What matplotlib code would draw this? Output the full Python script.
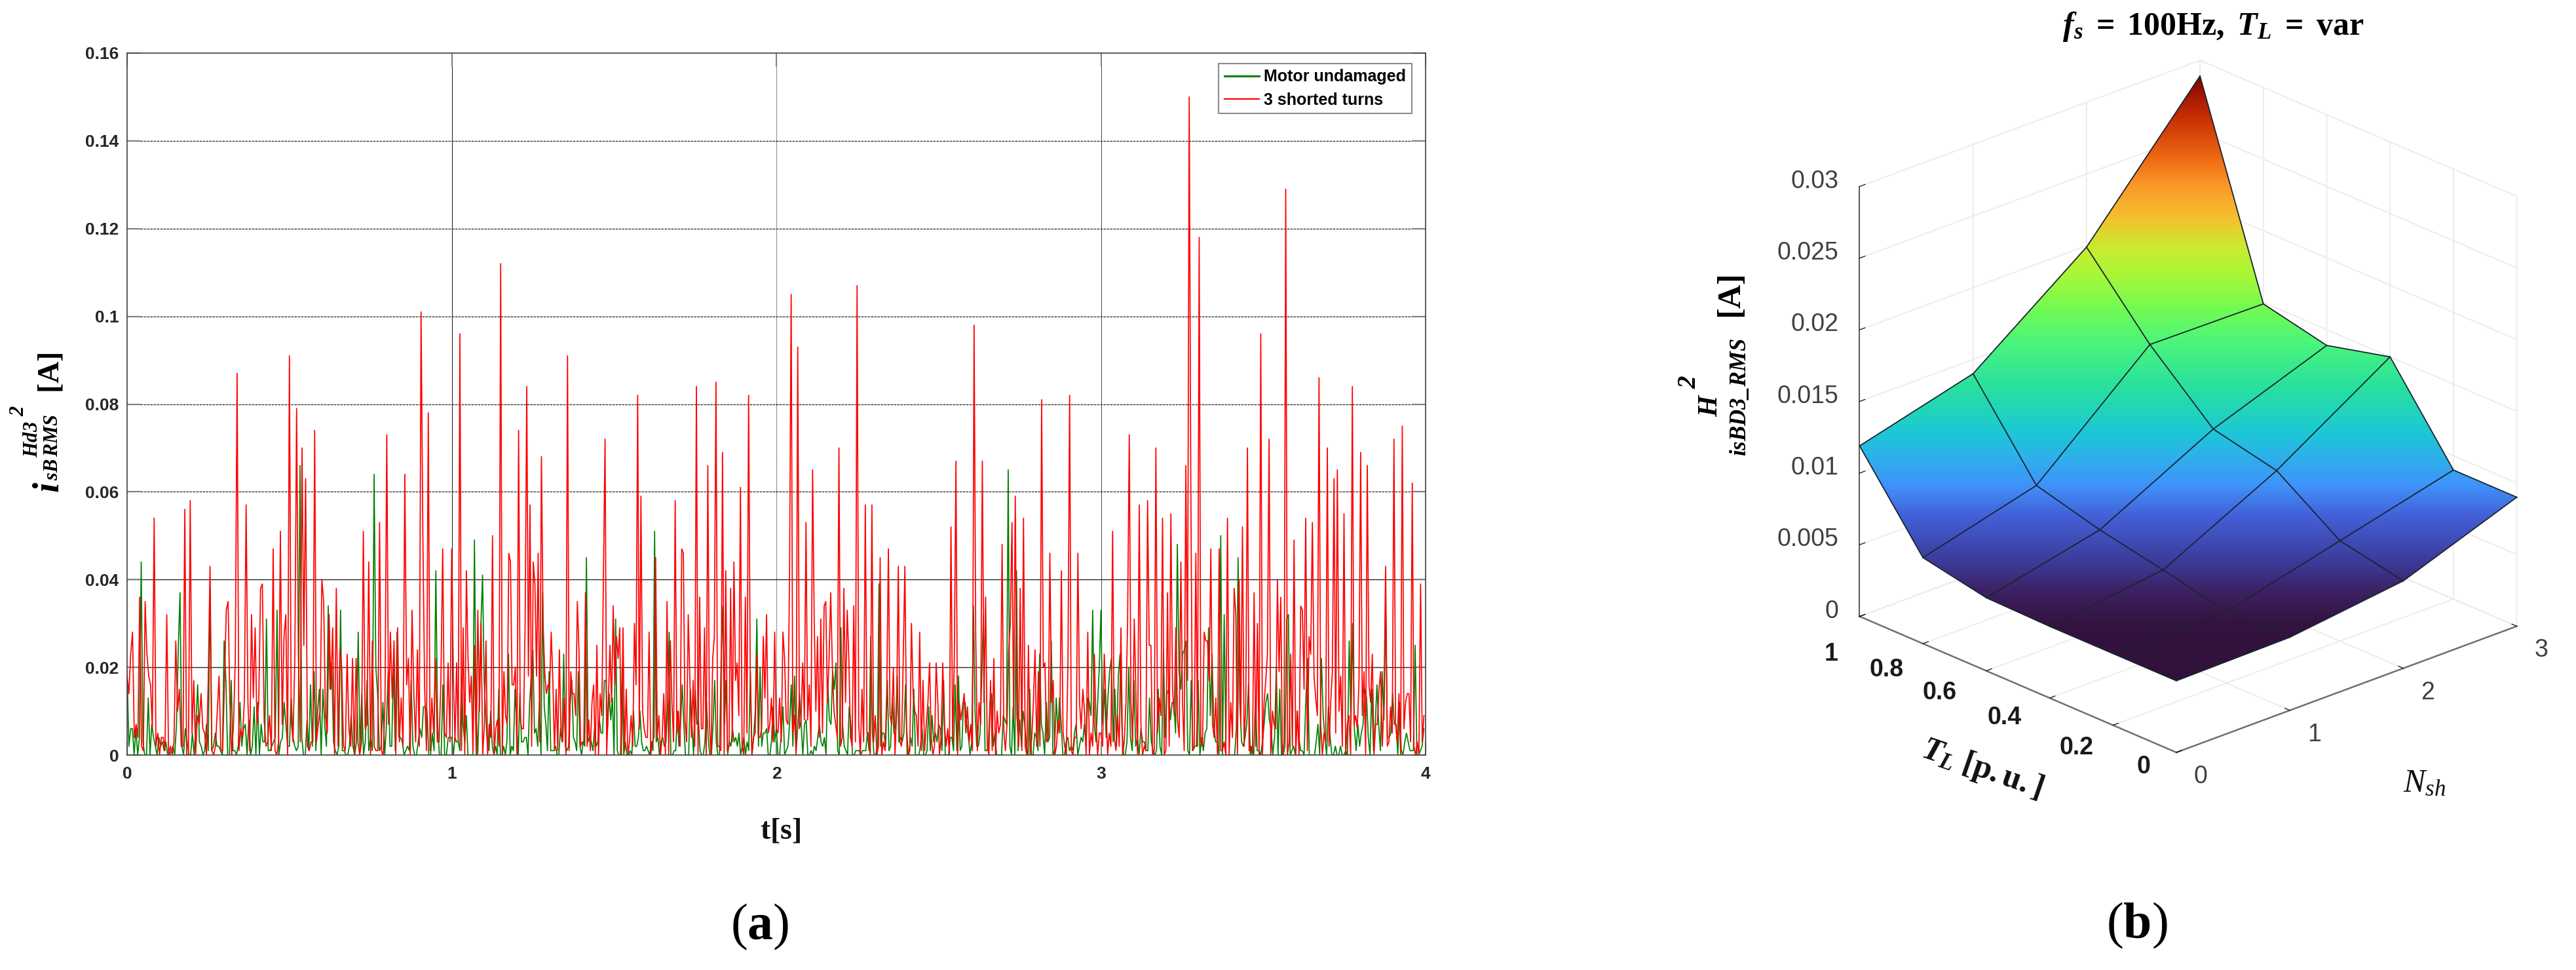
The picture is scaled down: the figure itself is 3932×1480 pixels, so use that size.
import matplotlib
matplotlib.use('Agg')
import matplotlib.pyplot as plt
import numpy as np
from matplotlib.colors import LinearSegmentedColormap
from matplotlib.patches import Polygon
from mpl_toolkits.mplot3d import proj3d

plt.rcParams['font.family'] = ['Liberation Sans', 'DejaVu Sans']
plt.rcParams['mathtext.fontset'] = 'custom'
plt.rcParams['mathtext.rm'] = 'Liberation Serif'
plt.rcParams['mathtext.it'] = 'Liberation Serif:italic'
plt.rcParams['mathtext.bf'] = 'Liberation Serif:bold'
plt.rcParams['mathtext.bfit'] = 'Liberation Serif:italic:bold'

# ---- panel (a): values in mA, one block per second, 5 ms apart
red_s0 = [18,14,23,28,4,7,4,36,2,1,35,23,18,16,6,54,2,5,0,4,4,1,32,0,2,0,3,26,10,15,2,2,56,0,0,58,5,17,0,9,7,14,6,5,0,17,43,1,0,2,10,18,1,1,17,33,35,12,0,7,22,87,1,6,4,12,57,12,1,32,13,29,7,12,38,39,8,2,3,9,1,47,1,0,3,51,7,27,32,0,91,8,3,22,79,22,3,70,25,63,2,1,3,3,74,3,7,10,40,35,9,5,32,15,29,0,38,2,24,20,2,1,23,6,2,22,0,22,3,0,3,51,6,7,44,0,26,2,1,1,53,1,0,12,73,7,28,13,26,0,29,3,13,2,64,16,22,0,33,14,3,24,2,101,50,15,1,78,1,13,5,22,3,3,17,47,5,4,21,3]
red_s1 = [47,18,3,21,3,96,1,29,0,42,22,12,18,1,25,0,33,10,30,0,7,26,0,7,4,50,0,6,8,2,112,0,19,9,7,46,44,16,16,20,0,74,8,6,6,30,84,18,57,2,44,39,18,46,3,68,30,19,14,16,15,28,17,1,15,1,24,5,3,13,0,91,1,19,14,14,9,35,24,2,3,3,37,2,8,1,12,16,0,25,0,14,9,40,72,0,12,25,12,34,16,27,22,29,0,29,1,15,0,3,9,2,30,16,82,6,59,10,6,4,4,28,0,3,4,45,4,9,0,4,14,0,35,0,26,12,3,58,5,10,2,47,46,8,3,32,17,4,17,2,84,0,36,6,6,29,0,66,7,0,22,27,85,2,2,1,69,0,42,1,2,38,3,44,17,21,9,61,2,0,36,5,82,19,0,4,5,23,4,4,6,27,13,32,5,7,13,3,28]
red_s2 = [6,5,13,3,28,22,8,7,40,105,5,9,0,93,6,8,21,8,53,8,16,2,65,30,10,27,4,31,5,34,35,12,22,37,20,10,7,4,70,2,4,38,12,33,22,4,2,34,3,107,7,0,15,3,57,5,5,0,57,3,9,0,2,45,0,3,1,14,47,9,7,20,0,10,43,3,2,22,43,7,0,1,30,14,10,9,2,28,1,17,1,7,12,21,4,0,2,21,12,0,4,21,7,2,6,0,52,3,22,67,0,12,8,11,14,5,11,3,7,1,98,27,1,12,7,67,12,36,2,0,17,1,22,0,10,5,7,48,6,1,7,24,30,53,8,59,9,2,38,1,54,2,0,25,0,4,12,24,2,19,2,81,20,21,3,4,46,12,17,0,2,8,5,42,5,2,0,22,82,1,0,4,4,46,12,6,15,10,0,28,0,5,2,23,7,0,5]
red_s3 = [5,2,23,12,0,5,2,51,4,1,9,2,29,0,3,12,30,73,12,3,31,14,0,57,7,0,2,1,58,25,25,0,1,70,5,13,9,54,0,1,37,2,55,15,9,29,8,4,44,12,1,66,17,150,60,1,2,46,2,118,3,2,28,26,26,17,47,7,4,13,0,47,1,1,3,0,54,0,12,4,38,32,0,40,7,52,2,12,70,1,2,0,37,2,30,0,96,0,12,17,23,72,0,10,7,6,40,19,36,0,3,129,0,3,23,2,49,0,10,0,34,33,15,54,1,27,23,53,18,13,9,86,7,0,5,3,70,2,12,19,63,5,65,10,18,2,55,0,7,9,0,84,7,9,6,17,69,9,19,0,66,16,12,23,0,7,7,15,19,2,12,43,2,3,11,5,72,7,3,14,0,75,6,12,14,14,3,62,2,0,3,0,39,3,9]

green_s0 = [19,2,6,6,0,6,0,4,44,3,0,0,13,0,7,4,2,0,4,2,3,1,3,0,0,1,2,0,7,24,37,2,0,6,3,0,0,5,0,7,16,3,2,0,1,7,1,38,1,2,5,2,2,1,0,26,17,0,0,17,1,1,0,2,12,2,6,7,0,8,0,2,11,0,12,0,7,3,3,31,1,1,2,3,4,33,0,3,4,12,7,2,2,13,4,2,1,2,66,4,0,0,8,1,16,2,19,1,10,15,0,15,7,2,34,15,21,3,1,0,2,33,1,1,0,0,2,9,2,0,3,28,1,14,0,3,17,1,4,1,64,20,14,1,2,12,0,7,19,2,2,21,1,28,4,4,3,0,1,2,1,17,2,0,0,3,6,4,11,11,10,0,0,5,1,42,7,0,0,16,0,0,4,4]
green_s1 = [4,0,4,3,3,1,18,7,3,9,0,0,0,0,49,10,0,12,30,41,17,9,2,1,10,2,0,2,0,15,0,0,2,0,3,23,0,2,1,15,7,0,14,3,3,4,4,0,12,18,24,5,6,2,12,0,37,11,7,1,19,1,1,1,2,0,0,6,3,23,2,1,2,12,17,4,3,1,19,2,0,3,2,45,3,4,3,1,6,2,3,8,5,5,17,17,6,14,8,13,0,31,1,0,0,20,0,3,0,0,1,0,10,2,2,4,10,3,1,1,2,1,0,3,1,51,3,4,0,3,4,2,3,12,28,0,0,1,1,10,2,7,16,7,0,0,0,15,7,0,15,7,8,1,0,0,3,12,4,0,0,7,17,3,0,0,22,34,7,17,0,3,2,6,3,4,2,5,0,2,4,0,3,1,19,0,4,10,31,2,20,2,5,5,6,0,0,3,11,3]
green_s2 = [6,0,0,5,11,0,1,2,7,16,2,18,1,7,14,7,0,7,8,0,0,1,0,2,1,4,7,3,2,4,0,17,8,7,19,15,21,1,0,29,7,2,1,0,11,7,0,0,1,1,1,0,1,1,1,5,1,27,5,0,0,2,39,2,5,5,2,17,1,2,13,5,7,18,3,4,3,5,16,0,0,4,2,15,0,0,0,2,6,0,0,1,11,1,9,3,5,3,7,6,1,17,0,0,0,4,4,1,16,1,18,1,2,12,12,7,4,0,3,34,10,2,2,5,17,32,1,1,2,12,14,2,5,0,0,0,0,9,8,7,65,2,0,11,0,42,1,8,2,10,7,2,0,15,0,0,5,4,1,23,7,5,0,12,3,4,26,0,1,13,5,13,7,0,0,3,4,1,2,1,5,7,0,2,4,3,7,2,13,12,9,33,7,3,12,20]
green_s3 = [33,7,15,4,13,19,22,3,15,2,18,23,7,0,0,3,20,4,1,17,2,4,0,6,3,3,1,1,13,3,1,0,1,15,2,0,24,4,14,15,8,12,12,5,48,19,15,23,24,26,1,0,17,1,2,2,17,0,4,1,5,6,29,9,23,7,3,3,0,50,0,32,0,0,0,0,0,0,6,45,12,3,2,4,7,16,0,2,0,13,1,1,0,3,7,12,14,8,6,0,4,20,0,15,0,0,2,31,32,0,1,2,0,10,4,1,1,0,12,22,0,0,0,0,3,7,0,22,9,4,0,11,4,0,0,2,0,0,2,0,0,1,0,26,7,30,6,1,7,2,5,7,15,13,4,0,15,1,7,16,7,1,19,8,34,4,4,5,14,7,7,0,12,1,0,3,5,3,1,1,1,25,0,0,1,2,6]

seconds = [0, 1, 2, 3]
t_ticks = [0, 1, 2, 3, 4]
i_ticks = [0, 0.02, 0.04, 0.06, 0.08, 0.1, 0.12, 0.14, 0.16]
i_tick_labels = ['0', '0.02', '0.04', '0.06', '0.08', '0.1', '0.12', '0.14', '0.16']

# ---- panel (b): surface values, rows follow TL, columns follow Nsh
nsh = [0, 1, 2, 3]
tl = [0, 0.2, 0.4, 0.6, 0.8, 1]
h2_rows = [
    [0.0050, 0.0051, 0.0061, 0.0090],
    [0.0050, 0.0050, 0.0070, 0.0090],
    [0.0050, 0.0060, 0.0100, 0.0150],
    [0.0051, 0.0069, 0.0110, 0.0139],
    [0.0060, 0.0081, 0.0150, 0.0149],
    [0.0119, 0.0140, 0.0199, 0.0289],
]
h_ticks = [0, 0.005, 0.01, 0.015, 0.02, 0.025, 0.03]
h_tick_labels = ['0', '0.005', '0.01', '0.015', '0.02', '0.025', '0.03']
tl_tick_labels = ['0', '0.2', '0.4', '0.6', '0.8', '1']
nsh_tick_labels = ['0', '1', '2', '3']


def second_times(block, start):
    return start + np.arange(len(block)) / len(block)


W, H = 3932, 1480
fig = plt.figure(figsize=(W / 100, H / 100), dpi=100, facecolor='white')


def rect(x0, y0, x1, y1):
    return [x0 / W, 1 - y1 / H, (x1 - x0) / W, (y1 - y0) / H]


#---- left panel
ax = fig.add_axes(rect(194, 81, 2176, 1152))
red_blocks = [red_s0, red_s1, red_s2, red_s3]
green_blocks = [green_s0, green_s1, green_s2, green_s3]
t_red = np.concatenate([second_times(b, s) for b, s in zip(red_blocks, seconds)])
t_green = np.concatenate([second_times(b, s) for b, s in zip(green_blocks, seconds)])
y_red = np.concatenate(red_blocks) / 1000
y_green = np.concatenate(green_blocks) / 1000
ax.plot(t_green, y_green, color='#008000', lw=1.25, label='Motor undamaged')
ax.plot(t_red, y_red, color='#ff0000', lw=1.25, label='3 shorted turns')
ax.set_xlim(0, 4)
ax.set_ylim(0, 0.16)
ax.set_xticks(t_ticks)
ax.set_yticks(i_ticks)
ax.set_yticklabels(i_tick_labels)
ax.tick_params(axis='both', which='major', direction='in', length=15, width=1.4, color='#808080',
               top=True, right=True, labelsize=19, labelcolor='#262626')
ax.tick_params(axis='x', pad=12)
ax.tick_params(axis='y', pad=9)
for lab in ax.get_xticklabels() + ax.get_yticklabels():
    lab.set_fontweight('bold')
ax.set_axisbelow(True)
for val in i_ticks[1:3]:
    ax.axhline(val, color='#262626', lw=1.0, zorder=0.5)
for val in i_ticks[3:-1]:
    ax.axhline(val, color='#262626', lw=0.9, ls=(0, (3, 1)), zorder=0.5)
ax.axvline(1, color='#262626', lw=0.8, zorder=0.5)
ax.axvline(2, color='#262626', lw=0.8, ls=(0, (1, 1)), zorder=0.5)
ax.axvline(3, color='#404040', lw=0.7, zorder=0.5)
for s in ax.spines.values():
    s.set_color('#404040')
    s.set_linewidth(1.2)
leg = ax.legend(loc='upper right', bbox_to_anchor=(0.9893, 0.9855), fontsize=18, frameon=True,
                fancybox=False, framealpha=1, edgecolor='#8c8c8c', borderpad=0.35, labelspacing=0.45,
                handlelength=2.1, handletextpad=0.3, borderaxespad=0)
leg.get_frame().set_linewidth(1.5)
for txt in leg.get_texts():
    txt.set_fontweight('bold')
    txt.set_color('black')
for line, w in zip(leg.get_lines(), [2.2, 1.6]):
    line.set_linewidth(w)

#---- right panel, orthographic view like the MATLAB figure
ax3 = fig.add_axes(rect(2700, 0, 3900, 1200), projection='3d')
ax3.set_proj_type('ortho')
ax3.view_init(elev=23.5, azim=-132.9)
ax3.set_box_aspect((710, 711, 716))
ax3.patch.set_alpha(0)
N_grid, T_grid = np.meshgrid(nsh, tl)
Z_grid = np.array(h2_rows)
ax3.plot_surface(N_grid, T_grid, Z_grid, color='#3f93fb', shade=False, edgecolor='none', antialiased=False)
ax3.set_xlim(0, 3)
ax3.set_ylim(0, 1)
ax3.set_zlim(0, 0.03)
ax3.set_xticks(nsh)
ax3.set_yticks(tl)
ax3.set_zticks(h_ticks)
ax3.set_xticklabels([])
ax3.set_yticklabels([])
ax3.set_zticklabels([])
for axis in (ax3.xaxis, ax3.yaxis, ax3.zaxis):
    axis.set_pane_color((1, 1, 1, 1))
    axis.pane.set_edgecolor('#ececec')
    axis._axinfo['grid'].update(color='#ececec', linewidth=1.4)
    axis._axinfo['tick'].update(inward_factor=0.0, outward_factor=0.2)
    axis.line.set_color('#707070')
    axis.line.set_linewidth(1.8)
ax3.zaxis.line.set_color('#404040')
ax3.zaxis.line.set_linewidth(1.2)


def to_pixels(n, t, z):
    xp, yp, _ = proj3d.proj_transform(n, t, z, ax3.get_proj())
    dx, dy = ax3.transData.transform((xp, yp))
    return dx, H - dy


# fit the box onto the reference corners (bottom corner and back top corner)
fig.canvas.draw()
x_a, y_a = to_pixels(0, 0, 0)
x_b, y_b = to_pixels(3, 1, 0.03)
scale = (1148 - 92) / (y_a - y_b)
side = 1200 * scale
fig.canvas.draw()
ax3.set_position(rect(2700, 0, 2700 + side, side))
fig.canvas.draw()
x_a, y_a = to_pixels(0, 0, 0)
x0 = 2700 + (3322 - x_a)
y0 = 1148 - y_a
ax3.set_position(rect(x0, y0, x0 + side, y0 + side))
fig.canvas.draw()

#---- overlay in figure pixels: gradient colouring, mesh lines and labels
ov = fig.add_axes([0, 0, 1, 1], zorder=5)
ov.patch.set_alpha(0)
ov.axis('off')

stop_pos = [0, .093, .144, .195, .272, .323, .377, .41, .485, .561, .613, .67, .715, .767, .818, .865, .92, .962, 1]
stop_col = ['#2f1239', '#33133f', '#3c2060', '#3c3a98', '#4360d8', '#3f93fb', '#2bb5e8', '#1cc8d6', '#28e09f',
            '#4cf57a', '#70fb55', '#a6f838', '#c8ec30', '#f5c02e', '#fc9a28', '#ee6a14', '#cf3a06', '#ac1c02', '#800500']
screen_cmap = LinearSegmentedColormap.from_list('screen', list(zip(stop_pos, stop_col)))

pts = np.array([[to_pixels(n, t, Z_grid[j, i]) for i, n in enumerate(nsh)] for j, t in enumerate(tl)])
outline = np.vstack([pts[::-1, 0], pts[0, 1:], pts[1:, -1], pts[-1, -2::-1]])
y_low, y_high = outline[:, 1].max(), outline[:, 1].min()
im = ov.imshow(np.linspace(1, 0, 512)[:, None], cmap=screen_cmap, aspect='auto', vmin=0, vmax=1,
               extent=(outline[:, 0].min(), outline[:, 0].max(), y_low, y_high))
ov.set_xlim(0, W)
ov.set_ylim(H, 0)
im.set_clip_path(Polygon(outline, closed=True, transform=ov.transData))
for j in range(len(tl)):
    ov.plot(pts[j, :, 0], pts[j, :, 1], color='#1c2430', lw=1.3)
for i in range(len(nsh)):
    ov.plot(pts[:, i, 0], pts[:, i, 1], color='#1c2430', lw=1.3)

for val, lab in zip(h_ticks, h_tick_labels):
    px, py = to_pixels(0, 1, val)
    ov.text(px - 32, py - 8, lab, ha='right', va='center', fontsize=27, color='#404040')
tl_offsets = [(-50, 22), (-56, 34), (-69, 30), (-71, 33), (-56, 40), (-43, 57)]
for val, lab, off in zip(tl, tl_tick_labels, tl_offsets):
    px, py = to_pixels(0, val, 0)
    ov.text(px + off[0], py + off[1], lab, ha='center', va='center', fontsize=27, fontweight='bold', color='#1a1a1a')
for val, lab in zip(nsh, nsh_tick_labels):
    px, py = to_pixels(val, 0, 0)
    ov.text(px + 37, py + 37, lab, ha='center', va='center', fontsize=27, color='#404040')

ov.text(3378, 41, r'$\mathbfit{f}_{\mathbfit{s}}\mathbf{\ =\ 100Hz,\ }\mathbfit{T}_{\mathbfit{L}}\mathbf{\ =\ var}$',
        ha='center', va='center', fontsize=36, color='black')
ov.text(3025, 1174, r'$\mathbfit{T}_{\mathbfit{L}}\mathbf{\ [p{.}u{.}]}$', ha='center', va='center', fontsize=36,
        rotation=-19, rotation_mode='anchor', color='#111111')
ov.text(3701, 1195, r'$\mathit{N}_{\mathit{sh}}$', ha='center', va='center', fontsize=36, color='#111111')

# z label pieces
ov.text(2610, 618, r'$\mathbfit{H}$', ha='center', va='center', fontsize=30, rotation=90)
ov.text(2578, 582, r'$\mathbfit{2}$', ha='center', va='center', fontsize=28, rotation=90)
ov.text(2655, 606, r'$\mathbfit{isBD3\_RMS}$', ha='center', va='center', fontsize=25, rotation=90)
ov.text(2644, 453, r'$\mathbf{[A]}$', ha='center', va='center', fontsize=36, rotation=90)

# y label pieces of the left panel
ov.text(76, 743, r'$\mathbfit{i}$', ha='center', va='center', fontsize=40, rotation=90)
ov.text(80, 716, r'$\mathbfit{sB}$', ha='center', va='center', fontsize=22, rotation=90)
ov.text(80, 664, r'$\mathbfit{RMS}$', ha='center', va='center', fontsize=22, rotation=90)
ov.text(49, 670, r'$\mathbfit{Hd3}$', ha='center', va='center', fontsize=22, rotation=90)
ov.text(28, 627, r'$\mathbfit{2}$', ha='center', va='center', fontsize=22, rotation=90)
ov.text(78, 569, r'$\mathbf{[A]}$', ha='center', va='center', fontsize=33, rotation=90)

ov.text(1191, 1267, r'$\mathbf{t[s]}$', ha='center', va='center', fontsize=33, color='#111111')
ov.text(1160, 1414, r'$\mathrm{(}\mathbf{a}\mathrm{)}$', ha='center', va='center', fontsize=56, color='black')
ov.text(3262, 1412, r'$\mathrm{(}\mathbf{b}\mathrm{)}$', ha='center', va='center', fontsize=56, color='black')

fig.savefig('out.png', dpi=100, facecolor='white')
